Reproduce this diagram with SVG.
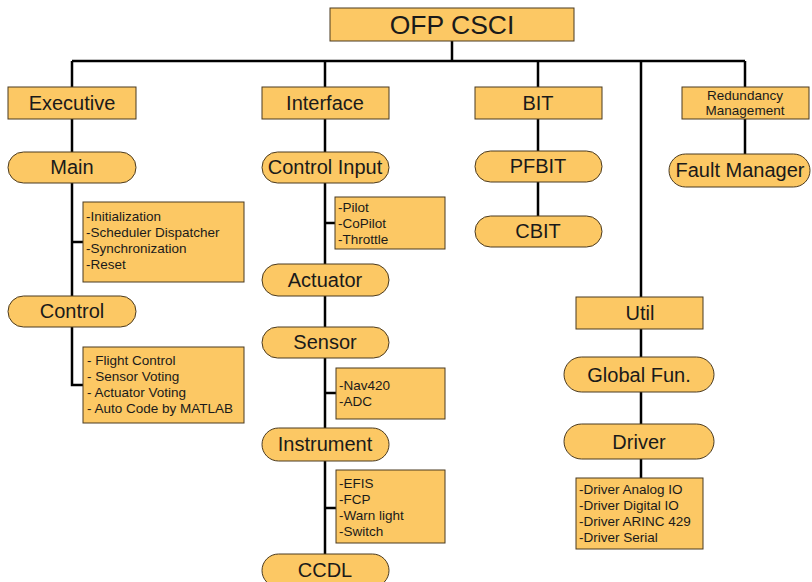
<svg xmlns="http://www.w3.org/2000/svg" width="812" height="582" viewBox="0 0 812 582">
<style>
.box{fill:#FCC864;stroke:#4a3a20;stroke-width:1}
.t{font-family:"Liberation Sans",Arial,sans-serif;fill:#1a1a1a;text-anchor:middle}
.big{font-size:20px}
.sm{font-size:13.5px}
.l{font-family:"Liberation Sans",Arial,sans-serif;fill:#1a1a1a;font-size:13.5px}
.c{fill:none;stroke:#000;stroke-width:2.5}
</style>
<rect width="812" height="582" fill="#fff"/>
<g id="connectors">
<path class="c" d="M452 41V61M72 61H745M72 61V385H83M72 242H83M325 61V570M325 223H335M325 393H336M325 508H336M538 61V216M641 61V478M745 61V155"/>
</g>
<g id="ofp"><rect class="box" x="330" y="8" width="244" height="33"/><text class="t" x="452" y="34" font-size="26.5">OFP CSCI</text></g>
<g id="executive"><rect class="box" x="8" y="87" width="128" height="32"/><text class="t big" x="72" y="110">Executive</text></g>
<g id="interface"><rect class="box" x="262" y="87" width="127" height="32"/><text class="t big" x="325" y="110">Interface</text></g>
<g id="bit"><rect class="box" x="475" y="87" width="127" height="32"/><text class="t big" x="538" y="110">BIT</text></g>
<g id="redundancy"><rect class="box" x="682" y="87" width="127" height="32"/><text class="t sm" x="745" y="100">Redundancy</text><text class="t sm" x="745" y="115">Management</text></g>
<g id="main"><rect class="box" x="8" y="152" width="128" height="31" rx="15.5"/><text class="t big" x="72" y="174">Main</text></g>
<g id="controlinput"><rect class="box" x="262" y="152" width="127" height="31" rx="15.5"/><text class="t big" x="325" y="174">Control Input</text></g>
<g id="pfbit"><rect class="box" x="475" y="151" width="127" height="31" rx="15.5"/><text class="t big" x="538" y="173">PFBIT</text></g>
<g id="faultmanager"><rect class="box" x="669" y="154" width="141" height="33" rx="16.5"/><text class="t big" x="740" y="177">Fault Manager</text></g>
<g id="cbit"><rect class="box" x="475" y="216" width="127" height="31" rx="15.5"/><text class="t big" x="538" y="238">CBIT</text></g>
<g id="mainlist"><rect class="box" x="83" y="202" width="161" height="80"/>
<text class="l" x="86" y="221">-Initialization</text><text class="l" x="86" y="237">-Scheduler Dispatcher</text><text class="l" x="86" y="253">-Synchronization</text><text class="l" x="86" y="269">-Reset</text></g>
<g id="control"><rect class="box" x="8" y="296" width="128" height="31" rx="15.5"/><text class="t big" x="72" y="318">Control</text></g>
<g id="controllist"><rect class="box" x="83" y="347" width="161" height="76"/>
<text class="l" x="87" y="365">- Flight Control</text><text class="l" x="87" y="381">- Sensor Voting</text><text class="l" x="87" y="397">- Actuator Voting</text><text class="l" x="87" y="413">- Auto Code by MATLAB</text></g>
<g id="pilotlist"><rect class="box" x="335" y="197" width="110" height="52"/>
<text class="l" x="338" y="212">-Pilot</text><text class="l" x="338" y="228">-CoPilot</text><text class="l" x="338" y="244">-Throttle</text></g>
<g id="actuator"><rect class="box" x="262" y="264" width="127" height="32" rx="16"/><text class="t big" x="325" y="287">Actuator</text></g>
<g id="sensor"><rect class="box" x="262" y="327" width="127" height="31" rx="15.5"/><text class="t big" x="325" y="349">Sensor</text></g>
<g id="sensorlist"><rect class="box" x="336" y="368" width="109" height="51"/>
<text class="l" x="339" y="390">-Nav420</text><text class="l" x="339" y="406">-ADC</text></g>
<g id="instrument"><rect class="box" x="262" y="428" width="127" height="33" rx="16.5"/><text class="t big" x="325" y="451">Instrument</text></g>
<g id="instrumentlist"><rect class="box" x="336" y="470" width="109" height="73"/>
<text class="l" x="339" y="488">-EFIS</text><text class="l" x="339" y="504">-FCP</text><text class="l" x="339" y="520">-Warn light</text><text class="l" x="339" y="536">-Switch</text></g>
<g id="ccdl"><rect class="box" x="262" y="554" width="127" height="33" rx="16.5"/><text class="t big" x="325" y="577">CCDL</text></g>
<g id="util"><rect class="box" x="576" y="297" width="127" height="32"/><text class="t big" x="640" y="320">Util</text></g>
<g id="globalfun"><rect class="box" x="564" y="357" width="150" height="35" rx="17.5"/><text class="t big" x="639" y="382">Global Fun.</text></g>
<g id="driver"><rect class="box" x="564" y="424" width="150" height="35" rx="17.5"/><text class="t big" x="639" y="449">Driver</text></g>
<g id="driverlist"><rect class="box" x="576" y="478" width="127" height="71"/>
<text class="l" x="579" y="494">-Driver Analog IO</text><text class="l" x="579" y="510">-Driver Digital IO</text><text class="l" x="579" y="526">-Driver ARINC 429</text><text class="l" x="579" y="542">-Driver Serial</text></g>
</svg>
